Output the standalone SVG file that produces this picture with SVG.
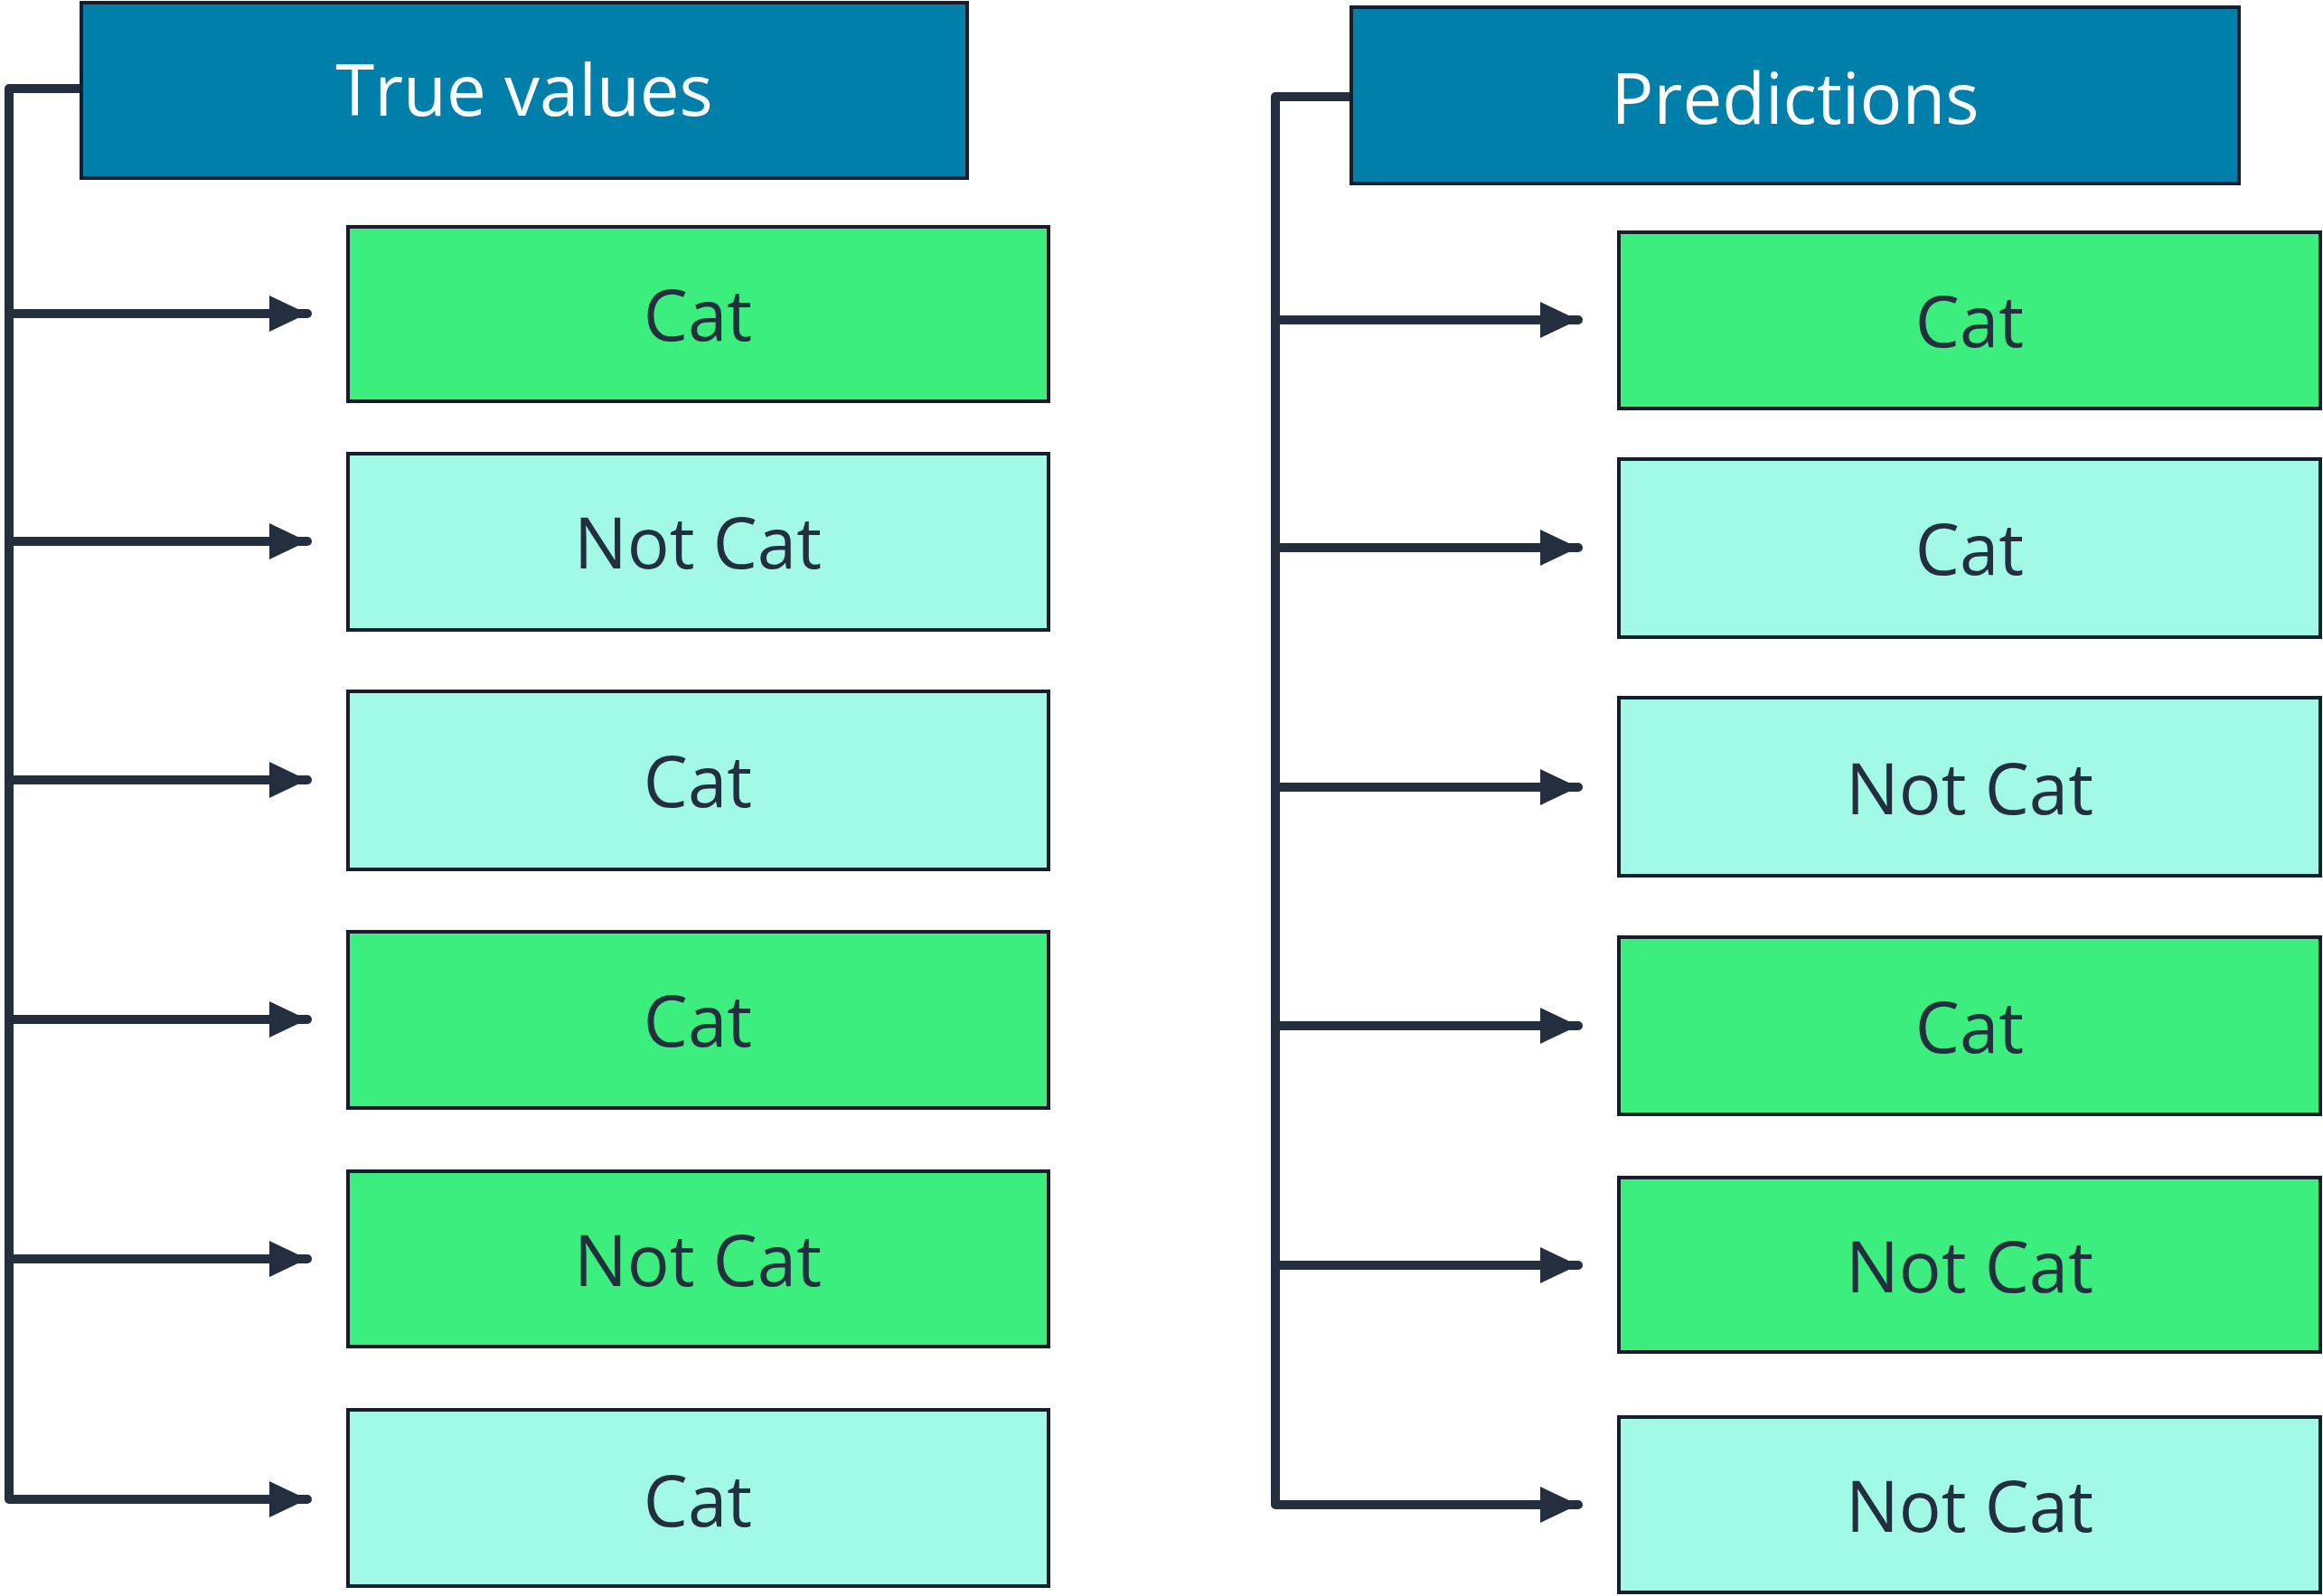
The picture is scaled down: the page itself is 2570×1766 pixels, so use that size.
<svg xmlns="http://www.w3.org/2000/svg" width="2570" height="1766" viewBox="0 0 2570 1766">
<style>
.h{fill:#017fab;stroke:#161e2d;stroke-width:4}
.g{fill:#3bee7e;stroke:#161e2d;stroke-width:4}
.l{fill:#a2fae6;stroke:#161e2d;stroke-width:4}
text{font-family:"Open Sans","Noto Sans",sans-serif;font-size:78px;text-anchor:middle;dominant-baseline:central;fill:#232f3e}
.ht{fill:#ffffff}
.c{fill:none;stroke:#232f3e;stroke-width:10;stroke-linejoin:round;stroke-linecap:round}
</style>
<defs><marker id="a" markerUnits="userSpaceOnUse" markerWidth="44" markerHeight="40" refX="42" refY="20" orient="auto"><path d="M0,0 L42,20 L0,40 z" fill="#232f3e"/></marker></defs>
<g id="connectors">
<path class="c" d="M90,98 H10 V1659 H340" marker-end="url(#a)"/>
<path class="c" d="M10,347 H340" marker-end="url(#a)"/>
<path class="c" d="M10,599 H340" marker-end="url(#a)"/>
<path class="c" d="M10,863 H340" marker-end="url(#a)"/>
<path class="c" d="M10,1128 H340" marker-end="url(#a)"/>
<path class="c" d="M10,1393 H340" marker-end="url(#a)"/>
<path class="c" d="M1495,107 H1411 V1665 H1746" marker-end="url(#a)"/>
<path class="c" d="M1411,354 H1746" marker-end="url(#a)"/>
<path class="c" d="M1411,606 H1746" marker-end="url(#a)"/>
<path class="c" d="M1411,871 H1746" marker-end="url(#a)"/>
<path class="c" d="M1411,1135 H1746" marker-end="url(#a)"/>
<path class="c" d="M1411,1400 H1746" marker-end="url(#a)"/>
</g>
<g id="true-values"><rect class="h" x="90" y="3" width="980" height="194"/><text class="ht" x="580" y="98">True values</text></g>
<g id="t1"><rect class="g" x="385" y="251" width="775" height="193"/><text x="772" y="347">Cat</text></g>
<g id="t2"><rect class="l" x="385" y="502" width="775" height="195"/><text x="772" y="599">Not Cat</text></g>
<g id="t3"><rect class="l" x="385" y="765" width="775" height="197"/><text x="772" y="863">Cat</text></g>
<g id="t4"><rect class="g" x="385" y="1031" width="775" height="195"/><text x="772" y="1128">Cat</text></g>
<g id="t5"><rect class="g" x="385" y="1296" width="775" height="194"/><text x="772" y="1393">Not Cat</text></g>
<g id="t6"><rect class="l" x="385" y="1560" width="775" height="195"/><text x="772" y="1659">Cat</text></g>
<g id="predictions"><rect class="h" x="1495" y="8" width="982" height="195"/><text class="ht" x="1986" y="107">Predictions</text></g>
<g id="p1"><rect class="g" x="1791" y="257" width="776" height="195"/><text x="2179" y="354">Cat</text></g>
<g id="p2"><rect class="l" x="1791" y="508" width="776" height="197"/><text x="2179" y="606">Cat</text></g>
<g id="p3"><rect class="l" x="1791" y="772" width="776" height="197"/><text x="2179" y="871">Not Cat</text></g>
<g id="p4"><rect class="g" x="1791" y="1037" width="776" height="196"/><text x="2179" y="1135">Cat</text></g>
<g id="p5"><rect class="g" x="1791" y="1303" width="776" height="193"/><text x="2179" y="1400">Not Cat</text></g>
<g id="p6"><rect class="l" x="1791" y="1568" width="776" height="194"/><text x="2179" y="1665">Not Cat</text></g>
</svg>
